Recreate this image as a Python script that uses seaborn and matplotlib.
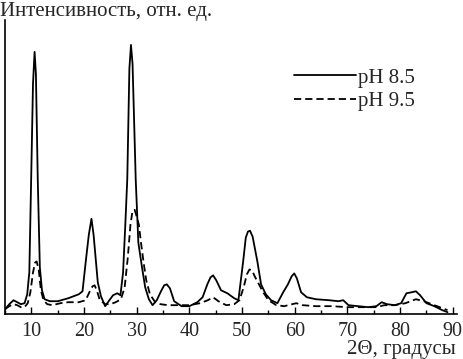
import numpy as np
import pandas as pd
import matplotlib
matplotlib.use("Agg")
import matplotlib.pyplot as plt
import seaborn as sns
from matplotlib.ticker import MultipleLocator

# Дифрактограммы (отн. ед.)
x_85 = [5, 5.8, 6.6, 7.3, 8.0, 8.7, 9.2, 9.6, 9.95, 10.3, 10.6, 10.85, 11.2, 11.6, 12.0,
        12.5, 13.5, 15, 17, 19, 19.7, 20.4, 20.9, 21.4, 21.8, 22.1, 22.6, 23.2, 24.0,
        24.8, 25.5, 26.3, 26.9, 27.4, 27.8, 28.2, 28.6, 28.9, 29.2, 29.8, 30.3, 31.0,
        31.6, 32.3, 33.0, 33.8, 34.6, 35.2, 35.7, 36.3, 37.1, 38.5, 40, 41.5, 42.5,
        43.4, 44.0, 44.5, 45.1, 46.0, 47.2, 48.5, 49.3, 50.2, 50.7, 51.1, 51.5, 52.0,
        52.9, 53.6, 54.5, 55.5, 56.7, 57.8, 58.7, 59.4, 59.9, 60.4, 61.2, 62.3, 64,
        66.5, 68.3, 69.2, 70.2, 72, 74, 75.5, 76.5, 77.5, 79, 80.2, 81.2, 82.2, 83.0,
        83.8, 85, 86.5, 88, 89]
y_85 = [3, 8, 12, 10, 8, 9, 18, 40, 134, 230, 262, 240, 134, 45, 22,
        13, 11, 11, 14, 18, 21, 55, 78, 94, 78, 60, 30, 16, 6,
        12, 17, 19, 17, 40, 85, 134, 245, 269, 250, 134, 70, 45,
        25, 13, 7, 12, 21, 27, 28, 24, 11, 6, 6, 10, 15,
        28, 35, 37, 32, 22, 19, 14, 12, 51, 75, 81, 82, 76,
        51, 28, 18, 12, 9, 20, 28, 36, 39, 34, 20, 15, 13,
        12, 11, 12, 7, 6, 5, 6, 10, 8, 7, 9, 19, 20, 21,
        17, 9, 6, 2, 0]

x_95 = [5, 5.8, 6.6, 7.3, 8.0, 8.7, 9.3, 9.8, 10.3, 10.7, 11.0, 11.4, 11.8, 12.3, 13, 14,
        15.5, 17, 19, 20.3, 21.0, 21.6, 22.0, 22.4, 23.0, 24.0, 25, 26, 27, 27.7, 28.3,
        28.8, 29.2, 29.6, 30.0, 30.4, 30.8, 31.3, 31.8, 32.5, 33.5, 34.5, 36, 38, 40, 42,
        43.5, 44.5, 45.5, 47, 48.5, 49.5, 50.3, 50.9, 51.4, 51.9, 52.4, 53, 54, 55, 56.5,
        58, 59.5, 60.3, 61.5, 64, 67, 70, 73, 75.5, 77, 79, 81, 83, 84.5, 86.5, 88, 89]
y_95 = [3, 6, 8, 7, 5, 5, 9, 20, 40, 50, 51, 42, 22, 12, 8, 7,
        9, 10, 10, 12, 20, 26, 27, 22, 12, 8, 8, 10, 13, 25, 55,
        88, 102, 103, 96, 88, 70, 50, 32, 18, 10, 8, 7, 7, 7, 9,
        12, 15, 11, 7, 8, 12, 25, 38, 43, 42, 36, 30, 20, 12, 7,
        6, 8, 9, 7, 6, 6, 5, 5, 5, 7, 7, 9, 13, 11, 7, 4, 2]

labels = ["pH 8.5", "pH 9.5"]

df = pd.concat([
    pd.DataFrame({"x": x_85, "y": y_85, "s": labels[0]}),
    pd.DataFrame({"x": x_95, "y": y_95, "s": labels[1]}),
])

sns.set_style("white")
plt.rcParams["font.family"] = ["Liberation Serif", "DejaVu Serif"]

fig = plt.figure(figsize=(4.63, 3.59), dpi=100)
ax = fig.add_axes([0.011, 0.125, 0.976, 0.819])

sns.lineplot(data=df, x="x", y="y", hue="s", style="s",
             palette=["black", "black"], dashes=[(None, None), (4, 2.2)],
             linewidth=1.3, ax=ax, sort=False, estimator=None)

ax.set_xlim(5, 90.8)
ax.set_ylim(-2, 294)
ax.set_xlabel("")
ax.set_ylabel("")
ax.set_yticks([])
ax.xaxis.set_major_locator(MultipleLocator(10))
ax.xaxis.set_minor_locator(MultipleLocator(5))
ax.set_xticks(range(10, 91, 10))
ax.tick_params(axis="x", which="major", direction="in", length=5, width=1,
               labelsize=14.5, pad=6, bottom=True, color="black")
ax.tick_params(axis="x", which="minor", direction="in", length=3, width=1,
               bottom=True, color="black")
for s in ["top", "right"]:
    ax.spines[s].set_visible(False)
for s in ["left", "bottom"]:
    ax.spines[s].set_color("black")
    ax.spines[s].set_linewidth(1.2)

leg = ax.legend(loc="upper left", bbox_to_anchor=(0.62, 0.865), frameon=False,
                fontsize=15, handlelength=3.0, handletextpad=0.1,
                labelspacing=0.2, borderaxespad=0)

fig.text(0.0, 0.995, "Интенсивность, отн. ед.", ha="left", va="top", fontsize=15)
fig.text(0.985, 0.0, "2Θ, градусы", ha="right", va="bottom", fontsize=15)

fig.savefig("out.png", dpi=100)
